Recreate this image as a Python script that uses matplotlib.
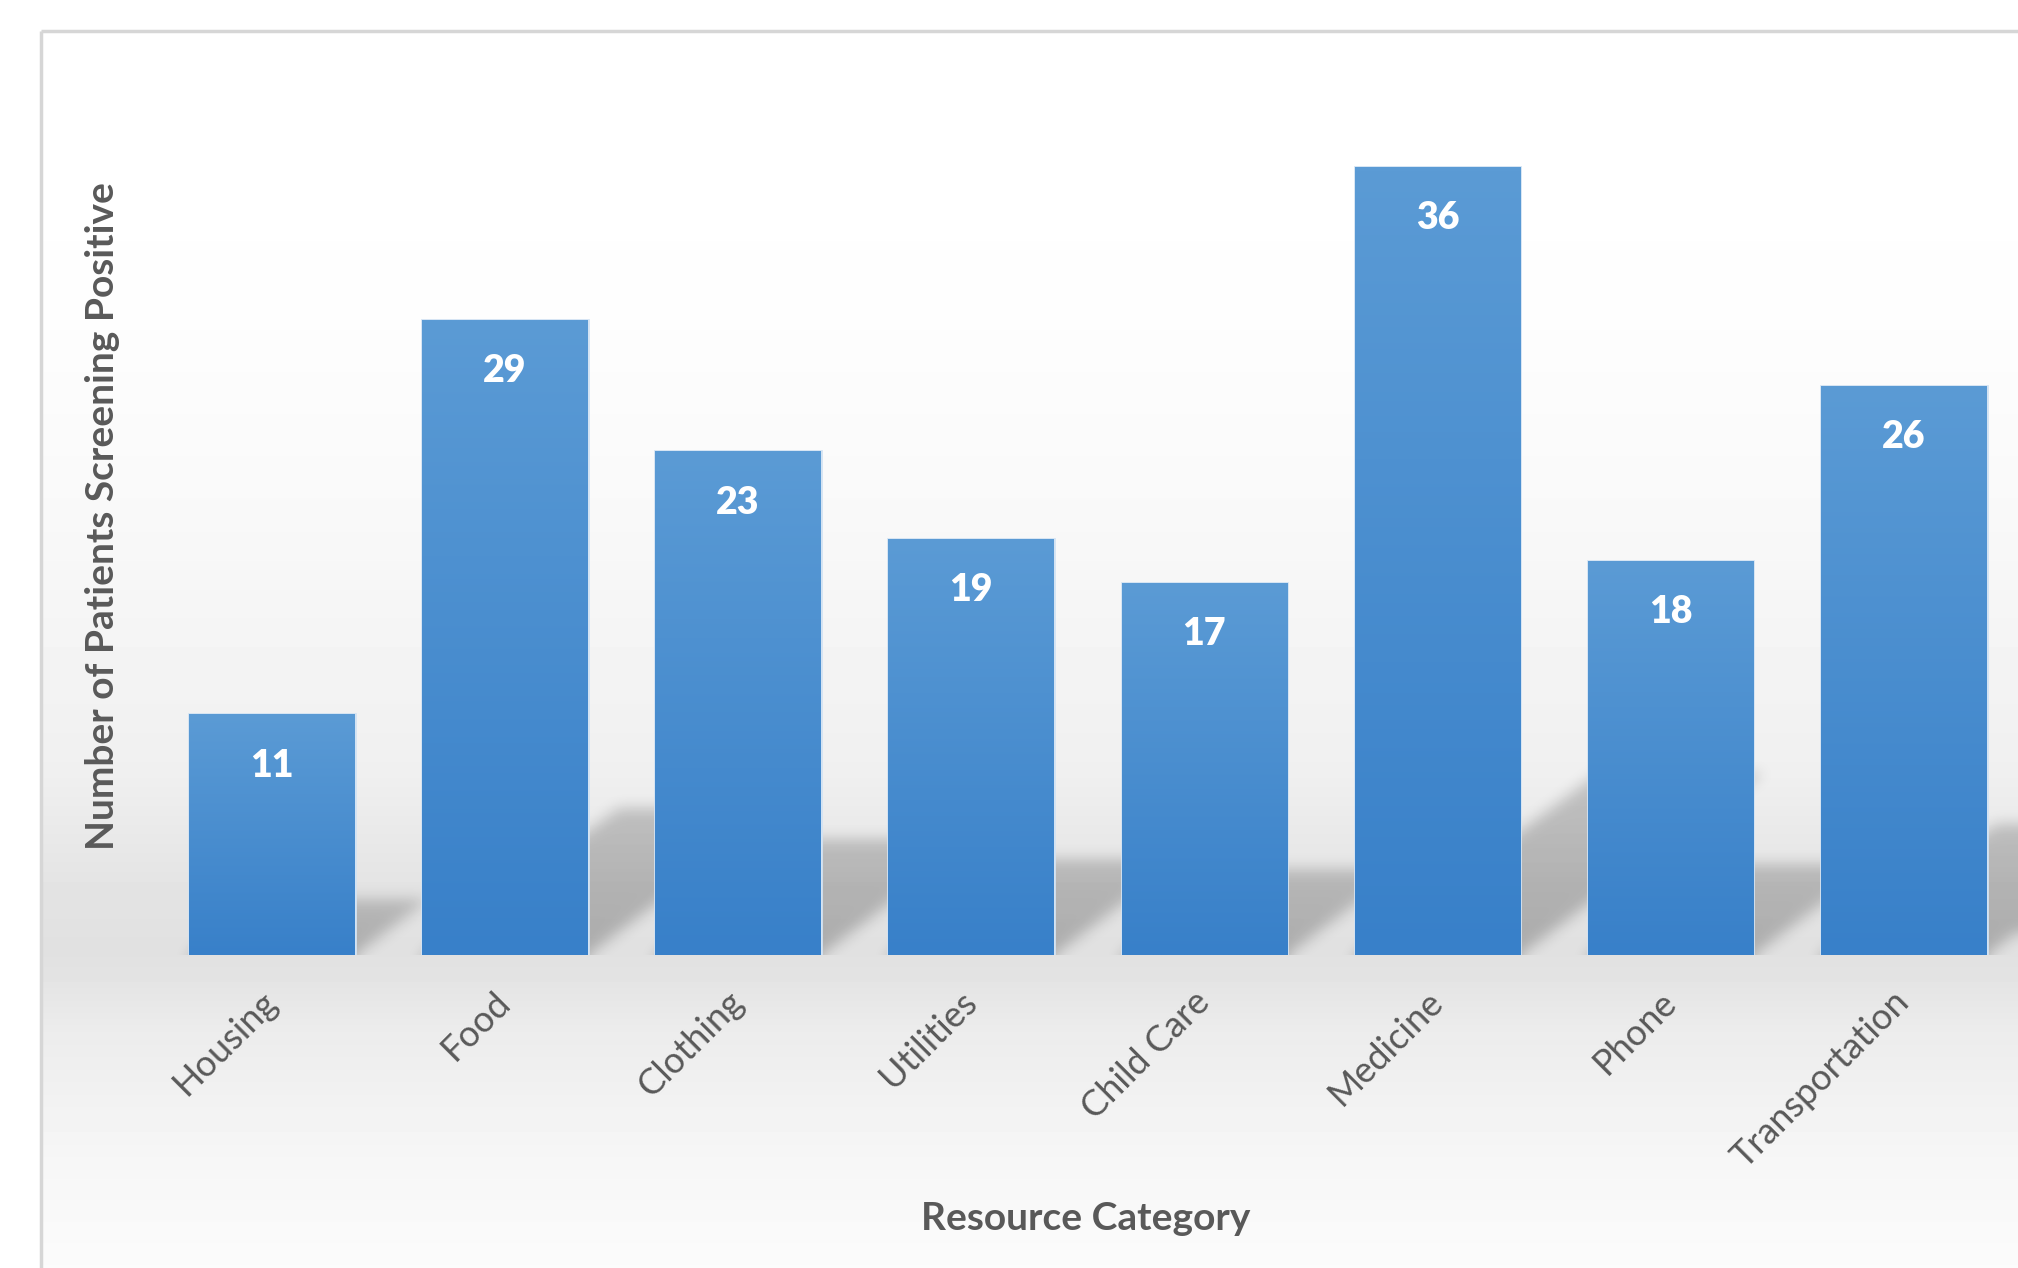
import numpy as np
import matplotlib.pyplot as plt
from matplotlib.colors import LinearSegmentedColormap

categories = ['Housing', 'Food', 'Clothing', 'Utilities', 'Child Care',
              'Medicine', 'Phone', 'Transportation']
counts = [11, 29, 23, 19, 17, 36, 18, 26]

W, H = 2018, 1268
fig = plt.figure(figsize=(W / 100, H / 100), dpi=100)
fig.patch.set_facecolor('white')

# background panel with vertical grey gradient
bg = fig.add_axes([0, 0, 1, 1])
bg.set_xlim(0, W)
bg.set_ylim(H, 0)
bg.axis('off')
ys = np.array([31, 300, 515, 772, 880, 950, 975, 1030, 1158, 1268])
vs = np.array([1.0, 0.995, 0.975, 0.94, 0.895, 0.88, 0.89, 0.925, 0.965, 0.985])
yy = np.arange(31, H) + 0.5
col = np.interp(yy, ys, vs)
img = np.repeat(col[:, None], W - 41, axis=1)
bg.imshow(img, extent=(41, W, H, 31), cmap='gray', vmin=0, vmax=1,
          aspect='auto', interpolation='none')
bg.plot([41, 41], [H, 31], color='#d6d6d6', lw=2.5, solid_capstyle='butt')
bg.plot([41, W], [31, 31], color='#d6d6d6', lw=2.5, solid_capstyle='butt')

# main axes
ax_w, ax_h = W - 41, 955 - 31
ax = fig.add_axes([41 / W, (H - 955) / H, ax_w / W, ax_h / H])
ax.patch.set_alpha(0)
xlim = (-0.99, 7.49)
ylim = (0, 42.2)

x = np.arange(len(categories))
bw = 0.71
px_x = ax_w / (xlim[1] - xlim[0])
px_y = ax_h / (ylim[1] - ylim[0])

# soft perspective shadows, built on a pixel grid and blurred
sh_h = 320
Y, X = np.mgrid[0:sh_h, 0:ax_w].astype(float)
shadow = np.zeros((sh_h, ax_w))
k = 1.34
for xi, h in zip(x, counts):
    s = 0.23 * h * px_y
    x0 = (xi - bw / 2 - xlim[0]) * px_x
    x1 = (xi + bw / 2 - xlim[0]) * px_x
    m = (Y <= s) & (X >= x0 + Y * k) & (X <= x1 + Y * k)
    shadow = np.maximum(shadow, m * (1 - 0.2 * Y / max(s, 1)))


def blur(a, sigma):
    r = int(3 * sigma)
    kern = np.exp(-0.5 * (np.arange(-r, r + 1) / sigma) ** 2)
    kern /= kern.sum()
    for axis in (0, 1):
        p = np.pad(a, [(r, r) if i == axis else (0, 0) for i in range(2)], mode='edge')
        out = np.zeros_like(a)
        n = a.shape[axis]
        for j, w in enumerate(kern):
            out += w * (p[j:j + n, :] if axis == 0 else p[:, j:j + n])
        a = out
    return a


shadow = blur(shadow, 7)
rgba = np.zeros((sh_h, ax_w, 4))
rgba[..., 3] = 0.24 * shadow
ax.imshow(rgba, extent=(xlim[0], xlim[1], 0, sh_h / px_y), origin='lower',
          aspect='auto', zorder=1, interpolation='bilinear')

bars = ax.bar(x, counts, width=bw, color='#4a90d0', edgecolor='#d3e3f3',
              linewidth=2, zorder=2)

cmap = LinearSegmentedColormap.from_list('barg', ['#3880c9', '#5b9bd5'])
grad = np.linspace(0, 1, 256)[:, None]
for b in bars:
    bx, by = b.get_x(), b.get_y()
    im = ax.imshow(grad, extent=(bx, bx + b.get_width(), by, by + b.get_height()),
                   origin='lower', cmap=cmap, aspect='auto', zorder=3,
                   interpolation='bilinear')
    im.set_clip_path(b)

for xi, h in zip(x, counts):
    ax.annotate(str(h), (xi, h), xytext=(0, -37), textcoords='offset points',
                ha='center', va='center', color='white', fontsize=27,
                fontweight='heavy', family='Lato', zorder=4)

ax.set_xlim(*xlim)
ax.set_ylim(*ylim)
ax.set_yticks([])
ax.set_xticks(x)
ax.set_xticklabels(categories, rotation=45, ha='right', va='center',
                   rotation_mode='anchor', fontsize=26, color='#595959', family='Lato')
ax.tick_params(axis='x', length=0, pad=30)
for sp in ax.spines.values():
    sp.set_visible(False)

fig.text(103 / W, 1 - 516 / H, 'Number of Patients Screening Positive', rotation=90,
         ha='center', va='center', fontsize=28, fontweight='bold', color='#595959',
         family='Lato')
fig.text(1086 / W, 1 - 1219 / H, 'Resource Category', ha='center', va='center',
         fontsize=28, fontweight='bold', color='#595959', family='Lato')

fig.savefig('out.png', dpi=100)
